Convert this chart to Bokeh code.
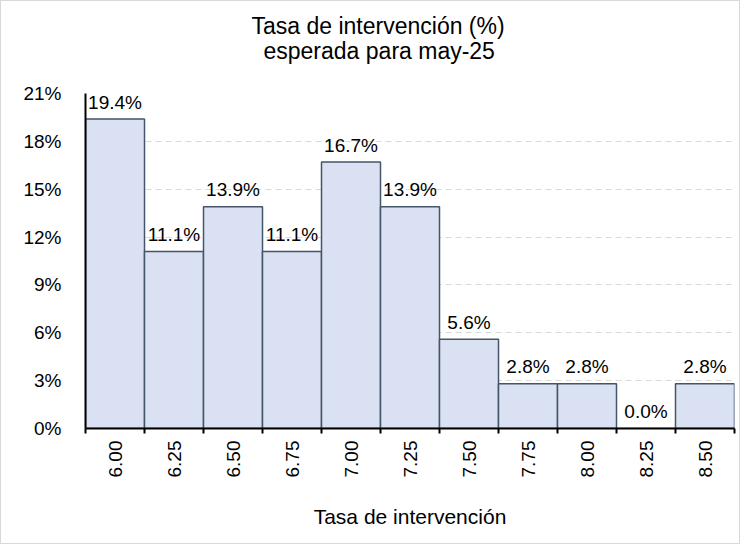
import math
from bokeh.plotting import figure
from bokeh.models import (Range1d, LinearAxis, FixedTicker, Title,
                          PrintfTickFormatter, ColumnDataSource)
from bokeh.embed import file_html
from bokeh.resources import INLINE
from bokeh.core.properties import value

# ---- data ----
tasas = ["6.00", "6.25", "6.50", "6.75", "7.00", "7.25", "7.50", "7.75", "8.00", "8.25", "8.50"]
probabilidades = [19.4, 11.1, 13.9, 11.1, 16.7, 13.9, 5.6, 2.8, 2.8, 0.0, 2.8]
y_ticks = [0, 3, 6, 9, 12, 15, 18, 21]
titulo = ["Tasa de intervención (%)", "esperada para may-25"]
eje_x = "Tasa de intervención"

FONT = "Liberation Sans"
BAR_FILL = "#D9E1F2"
BAR_LINE = "#44546A"
GRID = "#D9D9D9"

n = len(tasas)
centros = [i + 0.5 for i in range(n)]          # category slots on a numeric axis
bordes = list(range(n + 1))                    # slot boundaries (tick marks)
etiquetas = [f"{v:.1f}%" for v in probabilidades]
src = ColumnDataSource(dict(x=centros, prob=probabilidades, etiqueta=etiquetas))

p = figure(width=740, height=544,
           x_range=Range1d(0, n), y_range=Range1d(0, y_ticks[-1]),
           x_axis_location=None, y_axis_location=None, title_location=None,
           output_backend="svg", toolbar_location=None,
           min_border_left=84, min_border_right=7, min_border_top=92, min_border_bottom=117)
p.outline_line_color = None
p.background_fill_color = "white"
p.border_fill_color = "white"
p.styles = {"border": "1px solid #D9D9D9"}

# grid
p.xgrid.visible = False
p.ygrid.ticker = FixedTicker(ticks=y_ticks)
p.ygrid.grid_line_color = GRID
p.ygrid.grid_line_dash = "6 4"
p.ygrid.grid_line_width = 1

# bars
p.vbar(x="x", top="prob", width=1, bottom=0, source=src,
       fill_color=BAR_FILL, line_color=BAR_LINE, line_width=1.5)

# value labels
p.text(x="x", y="prob", text="etiqueta", source=src,
       text_align="center", text_baseline="alphabetic", y_offset=-17,
       text_font=value(FONT), text_font_size="19px", text_color="#000000")

# y axis
yax = LinearAxis(ticker=FixedTicker(ticks=y_ticks), formatter=PrintfTickFormatter(format="%d%%"))
yax.major_tick_out = 0
yax.major_tick_in = 0
yax.minor_tick_out = 0
yax.minor_tick_in = 0
yax.axis_line_color = "#000000"
yax.axis_line_width = 2
yax.major_label_standoff = 24
yax.major_label_text_font = FONT
yax.major_label_text_font_size = "19px"
yax.major_label_text_color = "#000000"
p.add_layout(yax, "left")

# x axis: boundary ticks + axis line
tick_axis = LinearAxis(ticker=FixedTicker(ticks=bordes))
tick_axis.major_label_overrides = {b: "" for b in bordes}
tick_axis.major_label_text_font_size = "1px"
tick_axis.major_label_standoff = 0
tick_axis.major_tick_out = 5
tick_axis.major_tick_in = 0
tick_axis.major_tick_line_color = "#000000"
tick_axis.major_tick_line_width = 2
tick_axis.minor_tick_out = 0
tick_axis.minor_tick_in = 0
tick_axis.axis_line_color = "#000000"
tick_axis.axis_line_width = 2
p.add_layout(tick_axis, "below")

# x axis: category labels at slot centres
lab_axis = LinearAxis(ticker=FixedTicker(ticks=centros))
lab_axis.major_label_overrides = {c: t for c, t in zip(centros, tasas)}
lab_axis.major_tick_out = 0
lab_axis.major_tick_in = 0
lab_axis.minor_tick_out = 0
lab_axis.minor_tick_in = 0
lab_axis.axis_line_color = None
lab_axis.major_label_orientation = math.pi / 2
lab_axis.major_label_standoff = 7
lab_axis.major_label_text_font = FONT
lab_axis.major_label_text_font_size = "19px"
lab_axis.major_label_text_color = "#000000"
lab_axis.axis_label = eje_x
lab_axis.axis_label_standoff = 25
lab_axis.axis_label_text_font = FONT
lab_axis.axis_label_text_font_size = "21px"
lab_axis.axis_label_text_font_style = "normal"
lab_axis.axis_label_text_color = "#000000"
p.add_layout(lab_axis, "below")

# two-line chart title (panels stack upward: spacer, second line, first line)
espacio = Title(text=" ", text_font_size="1px", standoff=27)
t2 = Title(text=titulo[1], align="left", offset=178, standoff=0,
           text_font=FONT, text_font_size="23px", text_font_style="normal", text_color="#000000")
t1 = Title(text=titulo[0], align="left", offset=166, standoff=-6,
           text_font=FONT, text_font_size="23px", text_font_style="normal", text_color="#000000")
p.add_layout(espacio, "above")
p.add_layout(t2, "above")
p.add_layout(t1, "above")

open("out.html", "w").write(file_html(p, INLINE))
